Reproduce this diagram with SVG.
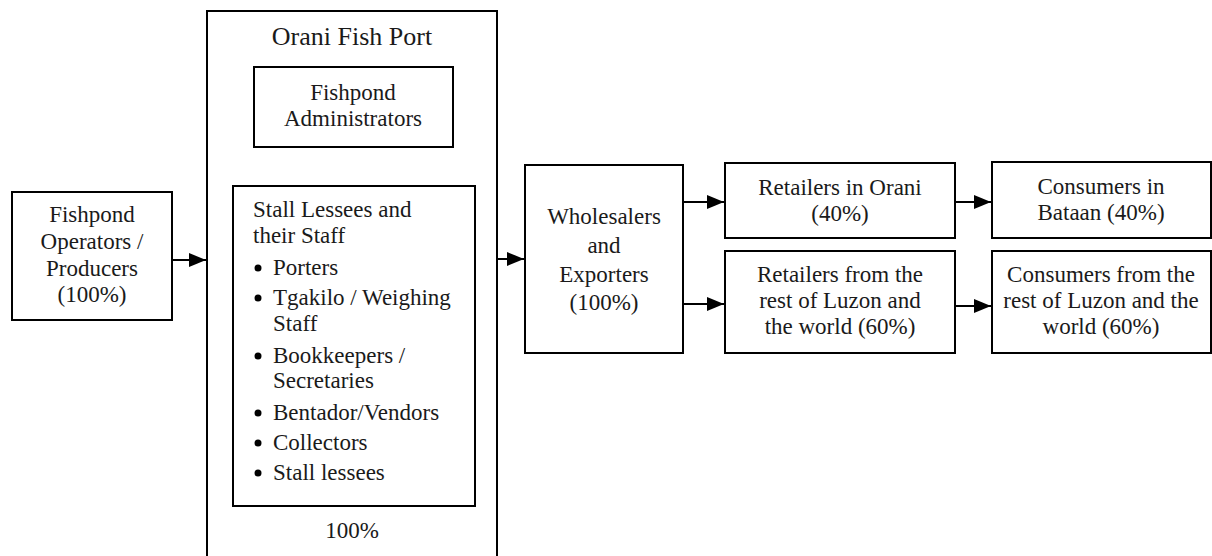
<svg xmlns="http://www.w3.org/2000/svg" width="1212" height="556" viewBox="0 0 1212 556">
<style>
.box{fill:#fff;stroke:#000;stroke-width:2}
text{font-family:'Liberation Serif','Tinos','DejaVu Serif',serif;font-size:23px;fill:#1a1a1a}
.c{text-anchor:middle}
.title{font-size:26px}
.edge{stroke:#000;stroke-width:2;fill:none}
</style>
<defs>
<marker id="ah" markerUnits="userSpaceOnUse" markerWidth="18" markerHeight="14" refX="17" refY="7" orient="auto">
<path d="M0,0 L17,7 L0,14 Z" fill="#000"/>
</marker>
</defs>
<rect width="1212" height="556" fill="#fff"/>

<g id="producers">
<rect class="box" x="12" y="192" width="160" height="128"/>
<text class="c" x="92" y="222">Fishpond</text>
<text class="c" x="92" y="249">Operators /</text>
<text class="c" x="92" y="276">Producers</text>
<text class="c" x="92" y="302">(100%)</text>
</g>

<g id="fishport">
<rect class="box" x="207" y="11" width="290" height="560"/>
<text class="c title" x="352" y="45">Orani Fish Port</text>
<text class="c" x="352" y="538">100%</text>
</g>

<g id="administrators">
<rect class="box" x="254" y="67" width="199" height="80"/>
<text class="c" x="353" y="100">Fishpond</text>
<text class="c" x="353" y="126">Administrators</text>
</g>

<g id="stall-lessees">
<rect class="box" x="233" y="186" width="242" height="320"/>
<text x="253" y="217">Stall Lessees and</text>
<text x="253" y="243">their Staff</text>
<g fill="#000">
<circle cx="258" cy="268" r="3.5"/>
<circle cx="258" cy="298" r="3.5"/>
<circle cx="258" cy="356" r="3.5"/>
<circle cx="258" cy="413" r="3.5"/>
<circle cx="258" cy="443" r="3.5"/>
<circle cx="258" cy="473" r="3.5"/>
</g>
<text x="273" y="275">Porters</text>
<text x="273" y="305">Tgakilo / Weighing</text>
<text x="273" y="331">Staff</text>
<text x="273" y="363">Bookkeepers /</text>
<text x="273" y="388">Secretaries</text>
<text x="273" y="420">Bentador/Vendors</text>
<text x="273" y="450">Collectors</text>
<text x="273" y="480">Stall lessees</text>
</g>

<g id="wholesalers">
<rect class="box" x="525" y="165" width="158" height="188"/>
<text class="c" x="604" y="224">Wholesalers</text>
<text class="c" x="604" y="253">and</text>
<text class="c" x="604" y="282">Exporters</text>
<text class="c" x="604" y="310">(100%)</text>
</g>

<g id="retailers-orani">
<rect class="box" x="725" y="163" width="230" height="75"/>
<text class="c" x="840" y="195">Retailers in Orani</text>
<text class="c" x="840" y="221">(40%)</text>
</g>

<g id="retailers-rest">
<rect class="box" x="725" y="251" width="230" height="102"/>
<text class="c" x="840" y="282">Retailers from the</text>
<text class="c" x="840" y="308">rest of Luzon and</text>
<text class="c" x="840" y="334">the world (60%)</text>
</g>

<g id="consumers-bataan">
<rect class="box" x="992" y="162" width="219" height="76"/>
<text class="c" x="1101" y="194">Consumers in</text>
<text class="c" x="1101" y="220">Bataan (40%)</text>
</g>

<g id="consumers-rest">
<rect class="box" x="992" y="251" width="219" height="102"/>
<text class="c" x="1101" y="282">Consumers from the</text>
<text class="c" x="1101" y="308">rest of Luzon and the</text>
<text class="c" x="1101" y="334">world (60%)</text>
</g>

<g id="connectors">
<line class="edge" x1="172" y1="260" x2="206" y2="260" marker-end="url(#ah)"/>
<line class="edge" x1="497" y1="259" x2="524" y2="259" marker-end="url(#ah)"/>
<line class="edge" x1="683" y1="202" x2="724" y2="202" marker-end="url(#ah)"/>
<line class="edge" x1="683" y1="304" x2="724" y2="304" marker-end="url(#ah)"/>
<line class="edge" x1="955" y1="202" x2="991" y2="202" marker-end="url(#ah)"/>
<line class="edge" x1="955" y1="306" x2="991" y2="306" marker-end="url(#ah)"/>
</g>
</svg>
